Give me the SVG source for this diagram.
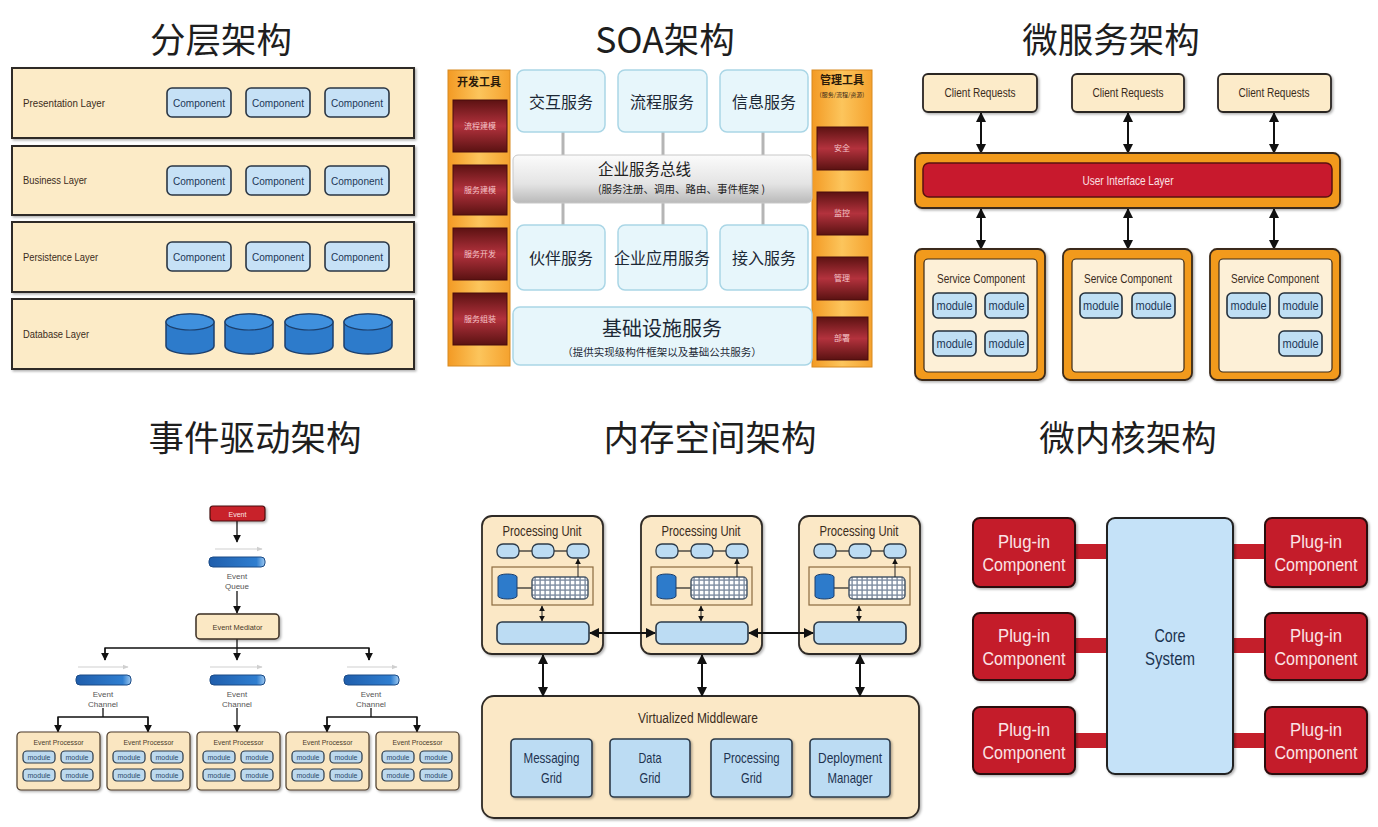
<svg xmlns="http://www.w3.org/2000/svg" width="1378" height="827" viewBox="0 0 1378 827">
<defs>
<style>
text{font-family:"Liberation Sans Narrow","Liberation Sans",Arial,sans-serif;}
.cjk{font-family:"Noto Sans CJK SC","Noto Sans CJK JP",sans-serif;}
.title{font-size:35.5px;fill:#1e1e1e;text-anchor:middle;}
.layer{fill:#fcebc7;stroke:#2e2a26;stroke-width:2;}
.ll{font-size:11px;fill:#3b2b1b;}
.comp{fill:#c6e1f6;stroke:#2a3644;stroke-width:1.6;}
.ct{font-size:11px;fill:#1d3756;text-anchor:middle;}
.cylb{fill:#2d7bcb;stroke:#1c3f6c;stroke-width:1.5;}
.cylt{fill:#3f90de;stroke:#1c3f6c;stroke-width:1.2;}
.svc{fill:#e7f6fb;stroke:#aad6e6;stroke-width:1.5;}
.svt{font-size:16px;fill:#1c2835;text-anchor:middle;}
.bar{stroke:#b5b5b5;stroke-width:3;}
.redb{fill:url(#gRed);stroke:#4a0c0c;stroke-width:1;}
.rbt{font-size:8px;fill:#f4c4c8;text-anchor:middle;}
.ptitle{font-size:11px;font-weight:bold;fill:#2a1a0a;text-anchor:middle;}
.cr{fill:#fcebc9;stroke:#2b2622;stroke-width:1.8;}
.crt{font-size:13px;fill:#3a2b1c;text-anchor:middle;}
.orange{fill:#f29a1e;stroke:#3a2a1a;stroke-width:1.8;}
.cream{fill:#fdf0d7;stroke:#3a2a1a;stroke-width:1.2;}
.mod{fill:#bfdff4;stroke:#24303c;stroke-width:1.6;}
.mt{font-size:12px;fill:#1d3756;text-anchor:middle;}
.sct{font-size:13px;fill:#3a2b1c;text-anchor:middle;}
.conn{stroke:#111;stroke-width:2;fill:none;}
.conn1{stroke:#111;stroke-width:1.3;fill:none;}
.faint{stroke:#cfcfcf;stroke-width:1;fill:none;}
.ep{fill:#fae6c1;stroke:#4a3a2a;stroke-width:1.2;}
.ept{font-size:8px;fill:#4a3a2a;text-anchor:middle;}
.em{fill:#bcd9ee;stroke:#2b3a4a;stroke-width:1.2;}
.emt{font-size:7px;fill:#2a4a6a;text-anchor:middle;}
.chl{font-size:8px;fill:#555;text-anchor:middle;}
.blue{fill:url(#gBlue);stroke:#1a4a86;stroke-width:1;}
.pu{fill:#fbe8c6;stroke:#2f2a25;stroke-width:1.8;}
.put{font-size:15px;fill:#3a2b1c;text-anchor:middle;}
.pill{fill:#bcdcf3;stroke:#2c3a48;stroke-width:1.3;}
.inner{fill:none;stroke:#8b6a3f;stroke-width:1.2;}
.lb{fill:#bcdcf3;stroke:#2c3a48;stroke-width:1.6;}
.gt{font-size:15px;fill:#1e3350;text-anchor:middle;}
.plug{fill:#c41f2b;stroke:#2c0c0c;stroke-width:2;}
.plt{font-size:19px;fill:#fbe4e6;text-anchor:middle;}
.core{fill:#c5e2f8;stroke:#222;stroke-width:2;}
.cot{font-size:19px;fill:#1b3350;text-anchor:middle;}
.band{fill:#c41f2b;}
</style>
<linearGradient id="gRed" x1="0" y1="0" x2="0" y2="1">
<stop offset="0" stop-color="#5c1212"/><stop offset="0.5" stop-color="#b3323d"/><stop offset="1" stop-color="#5a1212"/>
</linearGradient>
<linearGradient id="gOr" x1="0" y1="0" x2="1" y2="0">
<stop offset="0" stop-color="#f39a24"/><stop offset="0.5" stop-color="#fcc55c"/><stop offset="1" stop-color="#f5a22e"/>
</linearGradient>
<linearGradient id="gBus" x1="0" y1="0" x2="0" y2="1">
<stop offset="0" stop-color="#fbfbfb"/><stop offset="0.6" stop-color="#e4e4e4"/><stop offset="1" stop-color="#b9b9b9"/>
</linearGradient>
<linearGradient id="gBlue" x1="0" y1="0" x2="1" y2="0">
<stop offset="0" stop-color="#1f5eac"/><stop offset="0.85" stop-color="#2f7ed0"/><stop offset="1" stop-color="#9cc8f0"/>
</linearGradient>
<pattern id="cells" x="0" y="0" width="5" height="5" patternUnits="userSpaceOnUse">
<rect width="5" height="5" fill="#7f8ea2"/><rect x="0.8" y="0.8" width="3.6" height="3.6" fill="#fff"/>
</pattern>
<filter id="sh" x="-10%" y="-10%" width="130%" height="140%">
<feDropShadow dx="1.5" dy="1.5" stdDeviation="1" flood-color="#000" flood-opacity="0.3"/>
</filter>
<marker id="ah" viewBox="0 0 10 10" refX="9" refY="5" markerWidth="5" markerHeight="5" orient="auto-start-reverse">
<path d="M0,0 L10,5 L0,10 z" fill="#111"/>
</marker>
<marker id="ahs" viewBox="0 0 10 10" refX="9" refY="5" markerWidth="6" markerHeight="6" orient="auto-start-reverse">
<path d="M0,0 L10,5 L0,10 z" fill="#111"/>
</marker>
<marker id="ahg" viewBox="0 0 10 10" refX="9" refY="5" markerWidth="6" markerHeight="6" orient="auto">
<path d="M0,1 L10,5 L0,9 z" fill="#cfcfcf"/>
</marker>
</defs>
<rect width="1378" height="827" fill="#fff"/>

<!-- Titles -->
<g id="titles">
<text class="title cjk" x="221" y="53">分层架构</text>
<text class="title cjk" x="665" y="53">SOA架构</text>
<text class="title cjk" x="1111" y="53">微服务架构</text>
<text class="title cjk" x="255" y="451">事件驱动架构</text>
<text class="title cjk" x="710" y="451">内存空间架构</text>
<text class="title cjk" x="1128" y="451">微内核架构</text>
</g>

<!-- ===== Layered ===== -->
<g id="layered">
<g id="layer-presentation">
<rect class="layer" x="12" y="68" width="402" height="70" filter="url(#sh)"/>
<text class="ll" x="23" y="107" textLength="82" lengthAdjust="spacingAndGlyphs">Presentation Layer</text>
<rect class="comp" x="167" y="88" width="64" height="29" rx="5"/><text class="ct" x="199" y="107" textLength="52" lengthAdjust="spacingAndGlyphs">Component</text>
<rect class="comp" x="246" y="88" width="64" height="29" rx="5"/><text class="ct" x="278" y="107" textLength="52" lengthAdjust="spacingAndGlyphs">Component</text>
<rect class="comp" x="325" y="88" width="64" height="29" rx="5"/><text class="ct" x="357" y="107" textLength="52" lengthAdjust="spacingAndGlyphs">Component</text>
</g>
<g id="layer-business">
<rect class="layer" x="12" y="146" width="402" height="69" filter="url(#sh)"/>
<text class="ll" x="23" y="184" textLength="64" lengthAdjust="spacingAndGlyphs">Business Layer</text>
<rect class="comp" x="167" y="166" width="64" height="29" rx="5"/><text class="ct" x="199" y="185" textLength="52" lengthAdjust="spacingAndGlyphs">Component</text>
<rect class="comp" x="246" y="166" width="64" height="29" rx="5"/><text class="ct" x="278" y="185" textLength="52" lengthAdjust="spacingAndGlyphs">Component</text>
<rect class="comp" x="325" y="166" width="64" height="29" rx="5"/><text class="ct" x="357" y="185" textLength="52" lengthAdjust="spacingAndGlyphs">Component</text>
</g>
<g id="layer-persistence">
<rect class="layer" x="12" y="222" width="402" height="70" filter="url(#sh)"/>
<text class="ll" x="23" y="261" textLength="75" lengthAdjust="spacingAndGlyphs">Persistence Layer</text>
<rect class="comp" x="167" y="242" width="64" height="29" rx="5"/><text class="ct" x="199" y="261" textLength="52" lengthAdjust="spacingAndGlyphs">Component</text>
<rect class="comp" x="246" y="242" width="64" height="29" rx="5"/><text class="ct" x="278" y="261" textLength="52" lengthAdjust="spacingAndGlyphs">Component</text>
<rect class="comp" x="325" y="242" width="64" height="29" rx="5"/><text class="ct" x="357" y="261" textLength="52" lengthAdjust="spacingAndGlyphs">Component</text>
</g>
<g id="layer-database">
<rect class="layer" x="12" y="299" width="402" height="70" filter="url(#sh)"/>
<text class="ll" x="23" y="338" textLength="66" lengthAdjust="spacingAndGlyphs">Database Layer</text>
<g id="db1"><path class="cylb" d="M166,322 A24,8 0 0 1 214,322 V346 A24,8 0 0 1 166,346 Z"/><ellipse class="cylt" cx="190" cy="322" rx="24" ry="8"/></g>
<g id="db2"><path class="cylb" d="M225,322 A24,8 0 0 1 273,322 V346 A24,8 0 0 1 225,346 Z"/><ellipse class="cylt" cx="249" cy="322" rx="24" ry="8"/></g>
<g id="db3"><path class="cylb" d="M285,322 A24,8 0 0 1 333,322 V346 A24,8 0 0 1 285,346 Z"/><ellipse class="cylt" cx="309" cy="322" rx="24" ry="8"/></g>
<g id="db4"><path class="cylb" d="M344,322 A24,8 0 0 1 392,322 V346 A24,8 0 0 1 344,346 Z"/><ellipse class="cylt" cx="368" cy="322" rx="24" ry="8"/></g>
</g>
</g>

<!-- ===== SOA ===== -->
<g id="soa">
<g id="soa-connectors">
<line class="bar" x1="563" y1="132" x2="563" y2="156"/>
<line class="bar" x1="663" y1="132" x2="663" y2="156"/>
<line class="bar" x1="763" y1="132" x2="763" y2="156"/>
<line class="bar" x1="563" y1="202" x2="563" y2="226"/>
<line class="bar" x1="663" y1="202" x2="663" y2="226"/>
<line class="bar" x1="763" y1="202" x2="763" y2="226"/>
</g>
<g id="soa-devtools">
<rect x="448" y="70" width="62" height="296" fill="url(#gOr)" stroke="#d88a20" stroke-width="1"/>
<text class="ptitle cjk" x="479" y="86">开发工具</text>
<rect class="redb" x="453" y="100" width="54" height="52"/><text class="rbt cjk" x="480" y="129">流程建模</text>
<rect class="redb" x="453" y="165" width="54" height="50"/><text class="rbt cjk" x="480" y="193">服务建模</text>
<rect class="redb" x="453" y="228" width="54" height="52"/><text class="rbt cjk" x="480" y="257">服务开发</text>
<rect class="redb" x="453" y="293" width="54" height="52"/><text class="rbt cjk" x="480" y="322">服务组装</text>
</g>
<g id="soa-mgmt">
<rect x="812" y="70" width="60" height="297" fill="url(#gOr)" stroke="#d88a20" stroke-width="1"/>
<text class="ptitle cjk" x="842" y="84">管理工具</text>
<text class="cjk" x="842" y="97" font-size="6" fill="#3a2a1a" text-anchor="middle">(服务/流程/资源)</text>
<rect class="redb" x="817" y="127" width="51" height="43"/><text class="rbt cjk" x="842" y="151">安全</text>
<rect class="redb" x="817" y="192" width="51" height="43"/><text class="rbt cjk" x="842" y="216">监控</text>
<rect class="redb" x="817" y="257" width="51" height="43"/><text class="rbt cjk" x="842" y="281">管理</text>
<rect class="redb" x="817" y="317" width="51" height="43"/><text class="rbt cjk" x="842" y="341">部署</text>
</g>
<g id="soa-interact"><rect class="svc" x="517" y="70" width="88" height="62" rx="7"/><text class="svt cjk" x="561" y="108">交互服务</text></g>
<g id="soa-process"><rect class="svc" x="618" y="70" width="89" height="62" rx="7"/><text class="svt cjk" x="662" y="108">流程服务</text></g>
<g id="soa-info"><rect class="svc" x="720" y="70" width="88" height="62" rx="7"/><text class="svt cjk" x="764" y="108">信息服务</text></g>
<g id="soa-esb">
<rect x="513" y="155" width="299" height="48" rx="5" fill="url(#gBus)" stroke="#c8c8c8" stroke-width="1"/>
<text class="cjk" x="598" y="175" font-size="15.5" fill="#222">企业服务总线</text>
<text class="cjk" x="598" y="193" font-size="10.5" fill="#222">(服务注册、调用、路由、事件框架 )</text>
</g>
<g id="soa-partner"><rect class="svc" x="517" y="225" width="88" height="65" rx="7"/><text class="svt cjk" x="561" y="264">伙伴服务</text></g>
<g id="soa-enterprise"><rect class="svc" x="618" y="225" width="89" height="65" rx="7"/><text class="svt cjk" x="662" y="264">企业应用服务</text></g>
<g id="soa-access"><rect class="svc" x="720" y="225" width="88" height="65" rx="7"/><text class="svt cjk" x="764" y="264">接入服务</text></g>
<g id="soa-infra">
<rect class="svc" x="513" y="307" width="299" height="58" rx="7"/>
<text class="cjk" x="662" y="336" font-size="20" fill="#1c2835" text-anchor="middle">基础设施服务</text>
<text class="cjk" x="662" y="356" font-size="10.5" fill="#1c2835" text-anchor="middle">（提供实现级构件框架以及基础公共服务）</text>
</g>
</g>

<!-- ===== Microservices ===== -->
<g id="microservices">
<g id="ms-connectors">
<line class="conn" x1="981" y1="113" x2="981" y2="153" marker-start="url(#ah)" marker-end="url(#ah)"/>
<line class="conn" x1="1128" y1="113" x2="1128" y2="153" marker-start="url(#ah)" marker-end="url(#ah)"/>
<line class="conn" x1="1274" y1="113" x2="1274" y2="153" marker-start="url(#ah)" marker-end="url(#ah)"/>
<line class="conn" x1="981" y1="209" x2="981" y2="249" marker-start="url(#ah)" marker-end="url(#ah)"/>
<line class="conn" x1="1128" y1="209" x2="1128" y2="249" marker-start="url(#ah)" marker-end="url(#ah)"/>
<line class="conn" x1="1274" y1="209" x2="1274" y2="249" marker-start="url(#ah)" marker-end="url(#ah)"/>
</g>
<g id="ms-client1"><rect class="cr" x="923" y="74" width="114" height="38" rx="5" filter="url(#sh)"/><text class="crt" x="980" y="97" textLength="71" lengthAdjust="spacingAndGlyphs">Client Requests</text></g>
<g id="ms-client2"><rect class="cr" x="1072" y="74" width="112" height="38" rx="5" filter="url(#sh)"/><text class="crt" x="1128" y="97" textLength="71" lengthAdjust="spacingAndGlyphs">Client Requests</text></g>
<g id="ms-client3"><rect class="cr" x="1218" y="74" width="113" height="38" rx="5" filter="url(#sh)"/><text class="crt" x="1274" y="97" textLength="71" lengthAdjust="spacingAndGlyphs">Client Requests</text></g>
<g id="ms-ui">
<rect class="orange" x="915" y="153" width="425" height="55" rx="7" filter="url(#sh)"/>
<rect x="923" y="163" width="409" height="34" rx="6" fill="#c8192d" stroke="#5a1010" stroke-width="1.5"/>
<text x="1128" y="185" font-size="13" fill="#fbe0e3" text-anchor="middle" textLength="91" lengthAdjust="spacingAndGlyphs">User Interface Layer</text>
</g>
<g id="ms-svc1">
<rect class="orange" x="915" y="249" width="130" height="131" rx="7" filter="url(#sh)"/>
<rect class="cream" x="924" y="259" width="113" height="113" rx="4"/>
<text class="sct" x="981" y="283" textLength="88" lengthAdjust="spacingAndGlyphs">Service Component</text>
<rect class="mod" x="933" y="293" width="43" height="25" rx="5"/><text class="mt" x="954.5" y="310" textLength="36" lengthAdjust="spacingAndGlyphs">module</text>
<rect class="mod" x="985" y="293" width="43" height="25" rx="5"/><text class="mt" x="1006.5" y="310" textLength="36" lengthAdjust="spacingAndGlyphs">module</text>
<rect class="mod" x="933" y="331" width="43" height="25" rx="5"/><text class="mt" x="954.5" y="348" textLength="36" lengthAdjust="spacingAndGlyphs">module</text>
<rect class="mod" x="985" y="331" width="43" height="25" rx="5"/><text class="mt" x="1006.5" y="348" textLength="36" lengthAdjust="spacingAndGlyphs">module</text>
</g>
<g id="ms-svc2">
<rect class="orange" x="1063" y="249" width="129" height="131" rx="7" filter="url(#sh)"/>
<rect class="cream" x="1072" y="259" width="112" height="113" rx="4"/>
<text class="sct" x="1128" y="283" textLength="88" lengthAdjust="spacingAndGlyphs">Service Component</text>
<rect class="mod" x="1080" y="293" width="42" height="25" rx="5"/><text class="mt" x="1101" y="310" textLength="36" lengthAdjust="spacingAndGlyphs">module</text>
<rect class="mod" x="1132" y="293" width="43" height="25" rx="5"/><text class="mt" x="1153.5" y="310" textLength="36" lengthAdjust="spacingAndGlyphs">module</text>
</g>
<g id="ms-svc3">
<rect class="orange" x="1210" y="249" width="130" height="131" rx="7" filter="url(#sh)"/>
<rect class="cream" x="1219" y="259" width="113" height="113" rx="4"/>
<text class="sct" x="1275" y="283" textLength="88" lengthAdjust="spacingAndGlyphs">Service Component</text>
<rect class="mod" x="1227" y="293" width="43" height="25" rx="5"/><text class="mt" x="1248.5" y="310" textLength="36" lengthAdjust="spacingAndGlyphs">module</text>
<rect class="mod" x="1279" y="293" width="43" height="25" rx="5"/><text class="mt" x="1300.5" y="310" textLength="36" lengthAdjust="spacingAndGlyphs">module</text>
<rect class="mod" x="1279" y="331" width="43" height="25" rx="5"/><text class="mt" x="1300.5" y="348" textLength="36" lengthAdjust="spacingAndGlyphs">module</text>
</g>
</g>

<!-- ===== Event driven ===== -->
<g id="event-driven">
<g id="ed-connectors">
<line class="conn1" x1="237" y1="521" x2="237" y2="542" marker-end="url(#ahs)"/>
<line class="faint" x1="215" y1="549" x2="262" y2="549" marker-end="url(#ahg)"/>
<line class="conn1" x1="237" y1="591" x2="237" y2="613" marker-end="url(#ahs)"/>
<polyline class="conn1" points="105,660 105,648 369,648 369,660"/>
<line class="conn1" x1="105" y1="648" x2="105" y2="660" marker-end="url(#ahs)"/>
<line class="conn1" x1="369" y1="648" x2="369" y2="660" marker-end="url(#ahs)"/>
<line class="conn1" x1="237" y1="639" x2="237" y2="660" marker-end="url(#ahs)"/>
<line class="faint" x1="78" y1="667" x2="128" y2="667" marker-end="url(#ahg)"/>
<line class="faint" x1="210" y1="667" x2="262" y2="667" marker-end="url(#ahg)"/>
<line class="faint" x1="347" y1="667" x2="397" y2="667" marker-end="url(#ahg)"/>
<polyline class="conn1" points="103,708 103,717"/>
<polyline class="conn1" points="58,731 58,717 148,717 148,731"/>
<line class="conn1" x1="58" y1="717" x2="58" y2="732" marker-end="url(#ahs)"/>
<line class="conn1" x1="148" y1="717" x2="148" y2="732" marker-end="url(#ahs)"/>
<line class="conn1" x1="237" y1="708" x2="237" y2="732" marker-end="url(#ahs)"/>
<polyline class="conn1" points="371,708 371,717"/>
<polyline class="conn1" points="327,731 327,717 417,717 417,731"/>
<line class="conn1" x1="327" y1="717" x2="327" y2="732" marker-end="url(#ahs)"/>
<line class="conn1" x1="417" y1="717" x2="417" y2="732" marker-end="url(#ahs)"/>
</g>
<g id="ed-event"><rect x="210" y="506" width="55" height="15" rx="3" fill="#c8202c" stroke="#4a0e0e" stroke-width="1.2" filter="url(#sh)"/><text x="237.5" y="516.5" font-size="7" fill="#fbe4e6" text-anchor="middle">Event</text></g>
<g id="ed-queue"><rect class="blue" x="209" y="557" width="56" height="10" rx="4"/><text class="chl" x="237" y="579">Event</text><text class="chl" x="237" y="589">Queue</text></g>
<g id="ed-mediator"><rect x="196" y="614" width="83" height="25" rx="4" fill="#fbe8c4" stroke="#3a2e24" stroke-width="1.5" filter="url(#sh)"/><text x="237.5" y="629.5" font-size="8" fill="#4a3a2a" text-anchor="middle" textLength="50" lengthAdjust="spacingAndGlyphs">Event Mediator</text></g>
<g id="ed-channel1"><rect class="blue" x="76" y="675" width="55" height="10" rx="4"/><text class="chl" x="103" y="697">Event</text><text class="chl" x="103" y="707">Channel</text></g>
<g id="ed-channel2"><rect class="blue" x="210" y="675" width="55" height="10" rx="4"/><text class="chl" x="237" y="697">Event</text><text class="chl" x="237" y="707">Channel</text></g>
<g id="ed-channel3"><rect class="blue" x="344" y="675" width="55" height="10" rx="4"/><text class="chl" x="371" y="697">Event</text><text class="chl" x="371" y="707">Channel</text></g>
<g id="ed-proc1" transform="translate(17,732)">
<rect class="ep" width="83" height="58" rx="4" filter="url(#sh)"/><text class="ept" x="41.5" y="13" textLength="50" lengthAdjust="spacingAndGlyphs">Event Processor</text>
<rect class="em" x="6" y="19" width="32" height="12" rx="4"/><text class="emt" x="22" y="27.5">module</text>
<rect class="em" x="44" y="19" width="32" height="12" rx="4"/><text class="emt" x="60" y="27.5">module</text>
<rect class="em" x="6" y="37" width="32" height="12" rx="4"/><text class="emt" x="22" y="45.5">module</text>
<rect class="em" x="44" y="37" width="32" height="12" rx="4"/><text class="emt" x="60" y="45.5">module</text>
</g>
<g id="ed-proc2" transform="translate(107,732)">
<rect class="ep" width="83" height="58" rx="4" filter="url(#sh)"/><text class="ept" x="41.5" y="13" textLength="50" lengthAdjust="spacingAndGlyphs">Event Processor</text>
<rect class="em" x="6" y="19" width="32" height="12" rx="4"/><text class="emt" x="22" y="27.5">module</text>
<rect class="em" x="44" y="19" width="32" height="12" rx="4"/><text class="emt" x="60" y="27.5">module</text>
<rect class="em" x="6" y="37" width="32" height="12" rx="4"/><text class="emt" x="22" y="45.5">module</text>
<rect class="em" x="44" y="37" width="32" height="12" rx="4"/><text class="emt" x="60" y="45.5">module</text>
</g>
<g id="ed-proc3" transform="translate(197,732)">
<rect class="ep" width="83" height="58" rx="4" filter="url(#sh)"/><text class="ept" x="41.5" y="13" textLength="50" lengthAdjust="spacingAndGlyphs">Event Processor</text>
<rect class="em" x="6" y="19" width="32" height="12" rx="4"/><text class="emt" x="22" y="27.5">module</text>
<rect class="em" x="44" y="19" width="32" height="12" rx="4"/><text class="emt" x="60" y="27.5">module</text>
<rect class="em" x="6" y="37" width="32" height="12" rx="4"/><text class="emt" x="22" y="45.5">module</text>
<rect class="em" x="44" y="37" width="32" height="12" rx="4"/><text class="emt" x="60" y="45.5">module</text>
</g>
<g id="ed-proc4" transform="translate(286,732)">
<rect class="ep" width="83" height="58" rx="4" filter="url(#sh)"/><text class="ept" x="41.5" y="13" textLength="50" lengthAdjust="spacingAndGlyphs">Event Processor</text>
<rect class="em" x="6" y="19" width="32" height="12" rx="4"/><text class="emt" x="22" y="27.5">module</text>
<rect class="em" x="44" y="19" width="32" height="12" rx="4"/><text class="emt" x="60" y="27.5">module</text>
<rect class="em" x="6" y="37" width="32" height="12" rx="4"/><text class="emt" x="22" y="45.5">module</text>
<rect class="em" x="44" y="37" width="32" height="12" rx="4"/><text class="emt" x="60" y="45.5">module</text>
</g>
<g id="ed-proc5" transform="translate(376,732)">
<rect class="ep" width="83" height="58" rx="4" filter="url(#sh)"/><text class="ept" x="41.5" y="13" textLength="50" lengthAdjust="spacingAndGlyphs">Event Processor</text>
<rect class="em" x="6" y="19" width="32" height="12" rx="4"/><text class="emt" x="22" y="27.5">module</text>
<rect class="em" x="44" y="19" width="32" height="12" rx="4"/><text class="emt" x="60" y="27.5">module</text>
<rect class="em" x="6" y="37" width="32" height="12" rx="4"/><text class="emt" x="22" y="45.5">module</text>
<rect class="em" x="44" y="37" width="32" height="12" rx="4"/><text class="emt" x="60" y="45.5">module</text>
</g>
</g>

<!-- ===== Space based ===== -->
<g id="space-based">
<g id="pu1">
<rect class="pu" x="482" y="516" width="121" height="138" rx="10" filter="url(#sh)"/>
<text class="put" x="542" y="536" textLength="79" lengthAdjust="spacingAndGlyphs">Processing Unit</text>
<line x1="519" y1="551" x2="532" y2="551" stroke="#222" stroke-width="1.2"/>
<line x1="554" y1="551" x2="567" y2="551" stroke="#222" stroke-width="1.2"/>
<rect class="pill" x="497" y="544" width="22" height="14" rx="6"/>
<rect class="pill" x="532" y="544" width="22" height="14" rx="6"/>
<rect class="pill" x="567" y="544" width="22" height="14" rx="6"/>
<rect class="inner" x="492" y="567" width="101" height="38"/>
<line x1="517" y1="588" x2="532" y2="588" stroke="#222" stroke-width="1.2"/>
<path d="M498,577 A9.5,3 0 0 1 517,577 V596 A9.5,3 0 0 1 498,596 Z" fill="#2d7bcb" stroke="#1c3f6c" stroke-width="1"/>
<rect x="532" y="577" width="56" height="22" rx="4" fill="url(#cells)" stroke="#4a5868" stroke-width="1.5"/>
<line x1="578" y1="577" x2="578" y2="559" stroke="#222" stroke-width="1" marker-end="url(#ahs)"/>
<line x1="542" y1="606" x2="542" y2="621" stroke="#222" stroke-width="1" marker-start="url(#ahs)" marker-end="url(#ahs)"/>
<rect class="lb" x="497" y="622" width="92" height="22" rx="5"/>
</g>
<g id="pu2" transform="translate(159,0)">
<rect class="pu" x="482" y="516" width="121" height="138" rx="10" filter="url(#sh)"/>
<text class="put" x="542" y="536" textLength="79" lengthAdjust="spacingAndGlyphs">Processing Unit</text>
<line x1="519" y1="551" x2="532" y2="551" stroke="#222" stroke-width="1.2"/>
<line x1="554" y1="551" x2="567" y2="551" stroke="#222" stroke-width="1.2"/>
<rect class="pill" x="497" y="544" width="22" height="14" rx="6"/>
<rect class="pill" x="532" y="544" width="22" height="14" rx="6"/>
<rect class="pill" x="567" y="544" width="22" height="14" rx="6"/>
<rect class="inner" x="492" y="567" width="101" height="38"/>
<line x1="517" y1="588" x2="532" y2="588" stroke="#222" stroke-width="1.2"/>
<path d="M498,577 A9.5,3 0 0 1 517,577 V596 A9.5,3 0 0 1 498,596 Z" fill="#2d7bcb" stroke="#1c3f6c" stroke-width="1"/>
<rect x="532" y="577" width="56" height="22" rx="4" fill="url(#cells)" stroke="#4a5868" stroke-width="1.5"/>
<line x1="578" y1="577" x2="578" y2="559" stroke="#222" stroke-width="1" marker-end="url(#ahs)"/>
<line x1="542" y1="606" x2="542" y2="621" stroke="#222" stroke-width="1" marker-start="url(#ahs)" marker-end="url(#ahs)"/>
<rect class="lb" x="497" y="622" width="92" height="22" rx="5"/>
</g>
<g id="pu3" transform="translate(317,0)">
<rect class="pu" x="482" y="516" width="121" height="138" rx="10" filter="url(#sh)"/>
<text class="put" x="542" y="536" textLength="79" lengthAdjust="spacingAndGlyphs">Processing Unit</text>
<line x1="519" y1="551" x2="532" y2="551" stroke="#222" stroke-width="1.2"/>
<line x1="554" y1="551" x2="567" y2="551" stroke="#222" stroke-width="1.2"/>
<rect class="pill" x="497" y="544" width="22" height="14" rx="6"/>
<rect class="pill" x="532" y="544" width="22" height="14" rx="6"/>
<rect class="pill" x="567" y="544" width="22" height="14" rx="6"/>
<rect class="inner" x="492" y="567" width="101" height="38"/>
<line x1="517" y1="588" x2="532" y2="588" stroke="#222" stroke-width="1.2"/>
<path d="M498,577 A9.5,3 0 0 1 517,577 V596 A9.5,3 0 0 1 498,596 Z" fill="#2d7bcb" stroke="#1c3f6c" stroke-width="1"/>
<rect x="532" y="577" width="56" height="22" rx="4" fill="url(#cells)" stroke="#4a5868" stroke-width="1.5"/>
<line x1="578" y1="577" x2="578" y2="559" stroke="#222" stroke-width="1" marker-end="url(#ahs)"/>
<line x1="542" y1="606" x2="542" y2="621" stroke="#222" stroke-width="1" marker-start="url(#ahs)" marker-end="url(#ahs)"/>
<rect class="lb" x="497" y="622" width="92" height="22" rx="5"/>
</g>
<g id="middleware">
<rect class="pu" x="482" y="696" width="437" height="122" rx="12" filter="url(#sh)"/>
<text x="698" y="723" font-size="14" fill="#3a2b1c" text-anchor="middle" textLength="120" lengthAdjust="spacingAndGlyphs">Virtualized Middleware</text>
<g id="mw-messaging"><rect class="lb" x="511" y="739" width="81" height="58" rx="4" filter="url(#sh)"/><text class="gt" x="551.5" y="763" textLength="56" lengthAdjust="spacingAndGlyphs">Messaging</text><text class="gt" x="551.5" y="783" textLength="21" lengthAdjust="spacingAndGlyphs">Grid</text></g>
<g id="mw-data"><rect class="lb" x="610" y="739" width="80" height="58" rx="4" filter="url(#sh)"/><text class="gt" x="650" y="763" textLength="23" lengthAdjust="spacingAndGlyphs">Data</text><text class="gt" x="650" y="783" textLength="21" lengthAdjust="spacingAndGlyphs">Grid</text></g>
<g id="mw-processing"><rect class="lb" x="711" y="739" width="81" height="58" rx="4" filter="url(#sh)"/><text class="gt" x="751.5" y="763" textLength="56" lengthAdjust="spacingAndGlyphs">Processing</text><text class="gt" x="751.5" y="783" textLength="21" lengthAdjust="spacingAndGlyphs">Grid</text></g>
<g id="mw-deployment"><rect class="lb" x="810" y="739" width="80" height="58" rx="4" filter="url(#sh)"/><text class="gt" x="850" y="763" textLength="64" lengthAdjust="spacingAndGlyphs">Deployment</text><text class="gt" x="850" y="783" textLength="45" lengthAdjust="spacingAndGlyphs">Manager</text></g>
</g>
<g id="sb-connectors">
<line class="conn" x1="590" y1="633" x2="655" y2="633" marker-start="url(#ah)" marker-end="url(#ah)"/>
<line class="conn" x1="749" y1="633" x2="813" y2="633" marker-start="url(#ah)" marker-end="url(#ah)"/>
<line class="conn" x1="543" y1="655" x2="543" y2="696" marker-start="url(#ah)" marker-end="url(#ah)"/>
<line class="conn" x1="702" y1="655" x2="702" y2="696" marker-start="url(#ah)" marker-end="url(#ah)"/>
<line class="conn" x1="860" y1="655" x2="860" y2="696" marker-start="url(#ah)" marker-end="url(#ah)"/>
</g>
</g>

<!-- ===== Microkernel ===== -->
<g id="microkernel">
<g id="mk-connectors">
<rect class="band" x="1074" y="544" width="34" height="15"/>
<rect class="band" x="1074" y="638" width="34" height="15"/>
<rect class="band" x="1074" y="733" width="34" height="15"/>
<rect class="band" x="1232" y="544" width="34" height="15"/>
<rect class="band" x="1232" y="638" width="34" height="15"/>
<rect class="band" x="1232" y="733" width="34" height="15"/>
</g>
<g id="mk-core"><rect class="core" x="1107" y="518" width="126" height="256" rx="8" filter="url(#sh)"/><text class="cot" x="1170" y="642" textLength="31" lengthAdjust="spacingAndGlyphs">Core</text><text class="cot" x="1170" y="665" textLength="50" lengthAdjust="spacingAndGlyphs">System</text></g>
<g id="mk-plug-l1"><rect class="plug" x="973" y="518" width="102" height="69" rx="7" filter="url(#sh)"/><text class="plt" x="1024" y="548" textLength="52" lengthAdjust="spacingAndGlyphs">Plug-in</text><text class="plt" x="1024" y="571" textLength="83" lengthAdjust="spacingAndGlyphs">Component</text></g>
<g id="mk-plug-l2"><rect class="plug" x="973" y="613" width="102" height="67" rx="7" filter="url(#sh)"/><text class="plt" x="1024" y="642" textLength="52" lengthAdjust="spacingAndGlyphs">Plug-in</text><text class="plt" x="1024" y="665" textLength="83" lengthAdjust="spacingAndGlyphs">Component</text></g>
<g id="mk-plug-l3"><rect class="plug" x="973" y="707" width="102" height="67" rx="7" filter="url(#sh)"/><text class="plt" x="1024" y="736" textLength="52" lengthAdjust="spacingAndGlyphs">Plug-in</text><text class="plt" x="1024" y="759" textLength="83" lengthAdjust="spacingAndGlyphs">Component</text></g>
<g id="mk-plug-r1"><rect class="plug" x="1265" y="518" width="102" height="69" rx="7" filter="url(#sh)"/><text class="plt" x="1316" y="548" textLength="52" lengthAdjust="spacingAndGlyphs">Plug-in</text><text class="plt" x="1316" y="571" textLength="83" lengthAdjust="spacingAndGlyphs">Component</text></g>
<g id="mk-plug-r2"><rect class="plug" x="1265" y="613" width="102" height="67" rx="7" filter="url(#sh)"/><text class="plt" x="1316" y="642" textLength="52" lengthAdjust="spacingAndGlyphs">Plug-in</text><text class="plt" x="1316" y="665" textLength="83" lengthAdjust="spacingAndGlyphs">Component</text></g>
<g id="mk-plug-r3"><rect class="plug" x="1265" y="707" width="102" height="67" rx="7" filter="url(#sh)"/><text class="plt" x="1316" y="736" textLength="52" lengthAdjust="spacingAndGlyphs">Plug-in</text><text class="plt" x="1316" y="759" textLength="83" lengthAdjust="spacingAndGlyphs">Component</text></g>
</g>
</svg>
